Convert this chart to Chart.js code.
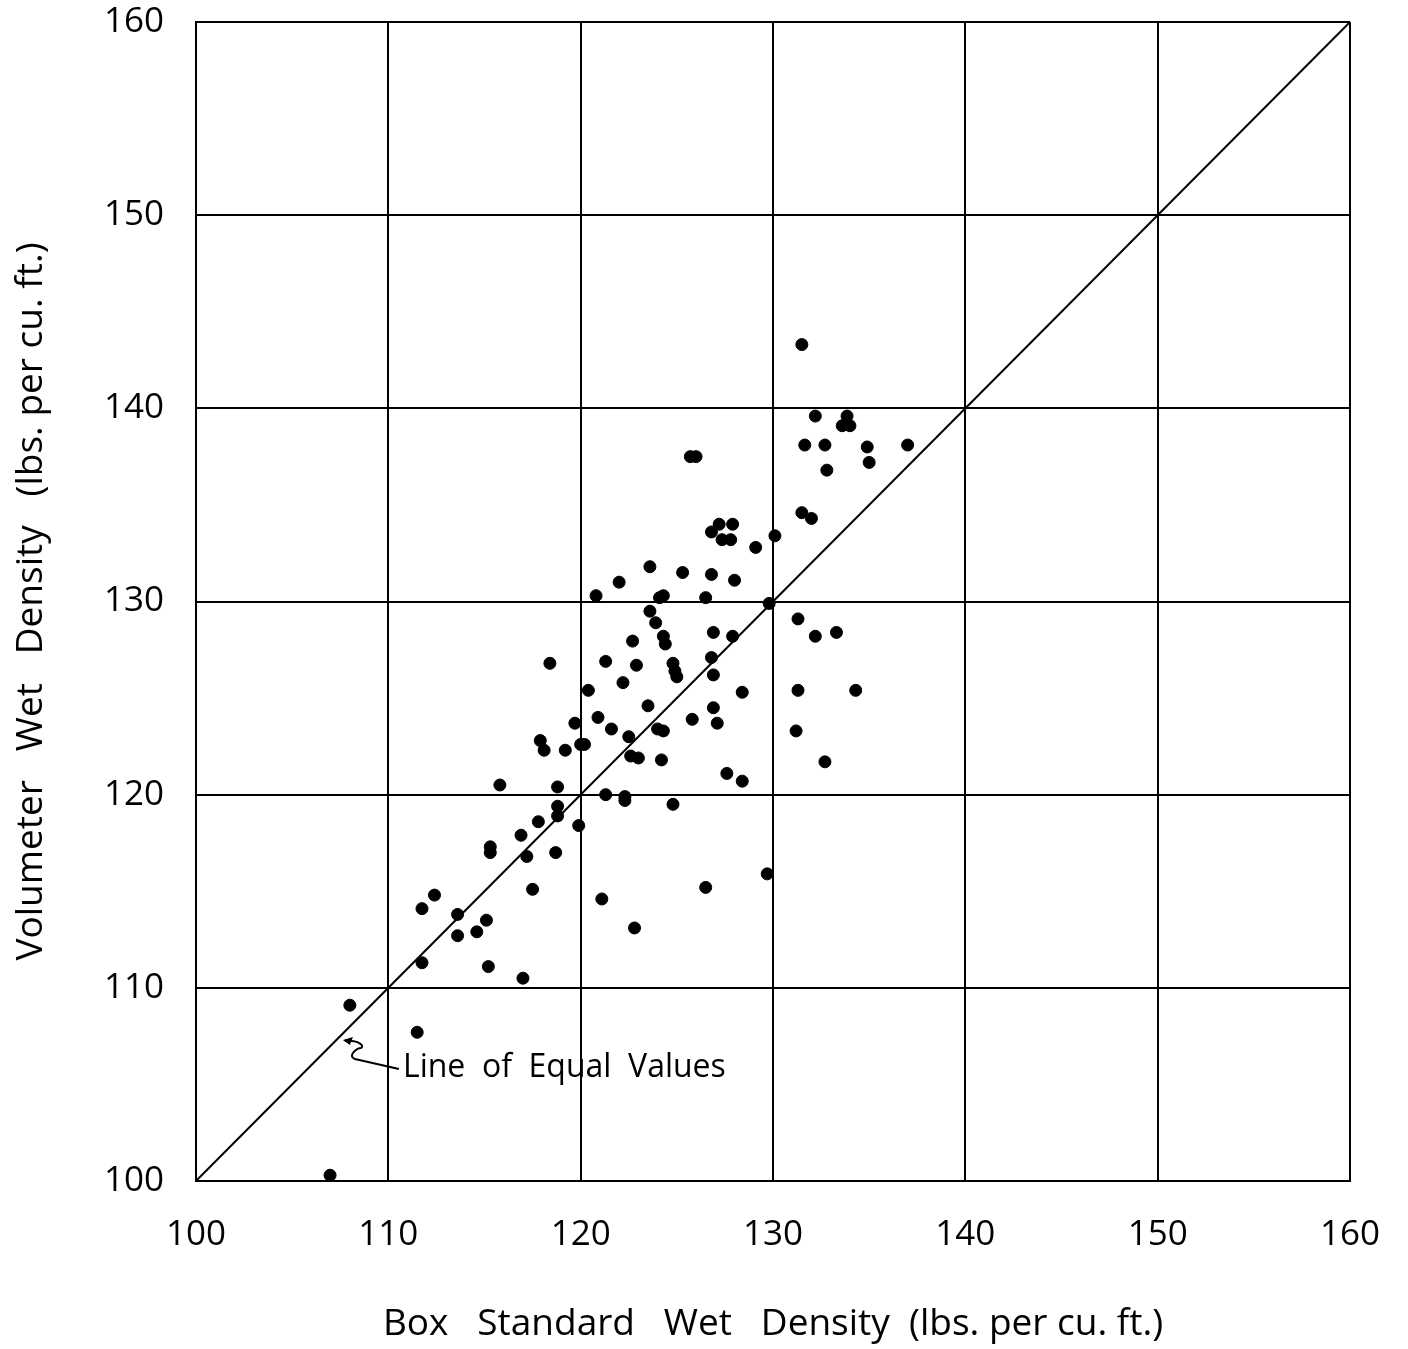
<!DOCTYPE html>
<html>
<head>
<meta charset="utf-8">
<script src="https://cdn.jsdelivr.net/npm/chart.js@4"></script>
<style>
  html, body { margin: 0; padding: 0; background: #fff; }
  canvas { display: block; }
</style>
</head>
<body>
<canvas id="chart" width="1408" height="1349"></canvas>
<script>
// Box standard wet density (x) vs volumeter wet density (y), lbs per cu.ft.
const boxDensity = [
  106.97, 108.0, 111.5, 111.75, 111.75, 112.4, 113.6, 113.6, 114.6, 115.1,
  115.2, 117.0, 115.3, 115.3, 115.8, 116.9, 117.2, 117.5, 117.8, 117.9,
  118.1, 118.4, 118.7, 118.8, 118.8, 118.8, 119.2, 119.7, 119.9, 120.0,
  120.2, 120.4, 120.8, 120.9, 121.1, 121.3, 121.3, 121.6, 122.0, 122.2,
  122.3, 122.3, 122.5, 122.6, 122.7, 122.8, 122.9, 123.0, 123.5, 123.6,
  123.6, 123.9, 124.0, 124.1, 124.3, 124.2, 124.3, 124.3, 124.4, 124.8,
  124.9, 125.0, 124.8, 125.3, 125.7, 126.0, 125.8, 126.5, 126.5, 126.8,
  126.8, 126.8, 126.9, 126.9, 126.9, 127.1, 127.2, 127.35, 127.6, 127.8,
  127.9, 128.0, 127.9, 128.4, 128.4, 129.1, 129.7, 129.8, 130.1, 131.3,
  131.3, 131.2, 131.5, 131.5, 131.65, 132.0, 132.2, 132.2, 132.7, 132.8,
  132.7, 133.3, 133.6, 133.85, 134.0, 134.3, 134.9, 135.0, 137.0
];
const volumeterDensity = [
  100.3, 109.1, 107.7, 111.3, 114.1, 114.8, 113.8, 112.7, 112.9, 113.5,
  111.1, 110.5, 117.3, 117.0, 120.5, 117.9, 116.8, 115.1, 118.6, 122.8,
  122.3, 126.8, 117.0, 120.4, 119.4, 118.9, 122.3, 123.7, 118.4, 122.6,
  122.6, 125.4, 130.3, 124.0, 114.6, 126.9, 120.0, 123.4, 131.0, 125.8,
  119.9, 119.7, 123.0, 122.0, 127.95, 113.1, 126.7, 121.9, 124.6, 131.8,
  129.5, 128.9, 123.4, 130.2, 130.3, 121.8, 123.3, 128.2, 127.8, 126.8,
  126.4, 126.1, 119.5, 131.5, 137.5, 137.5, 123.9, 130.2, 115.2, 133.6,
  131.4, 127.1, 128.4, 124.5, 126.2, 123.7, 134.0, 133.2, 121.1, 133.2,
  134.0, 131.1, 128.2, 120.7, 125.3, 132.8, 115.9, 129.9, 133.4, 129.1,
  125.4, 123.3, 143.3, 134.6, 138.1, 134.3, 139.6, 128.2, 138.1, 136.8,
  121.7, 128.4, 139.1, 139.6, 139.1, 125.4, 138.0, 137.2, 138.1
];
const equalLine = [100, 160];
const axisMin = 100;
const axisMax = 160;
const axisStep = 10;

const fontFamily = '"Open Sans", "DejaVu Sans", sans-serif';

const points = boxDensity.map((x, i) => ({ x: x, y: volumeterDensity[i] }));
const linePoints = equalLine.map(v => ({ x: v, y: v }));

// label + squiggly arrow pointing at the line of equal values
const equalLabel = {
  id: 'equalLabel',
  afterDatasetsDraw(chart) {
    const { ctx, scales: { x, y } } = chart;
    const tx = x.getPixelForValue(110.76);
    const ty = y.getPixelForValue(105.85);
    ctx.save();
    ctx.fillStyle = '#000';
    ctx.font = '32px ' + fontFamily;
    ctx.textBaseline = 'middle';
    ctx.textAlign = 'left';
    ctx.fillText('Line  of  Equal  Values', tx, ty);

    const tipX = x.getPixelForValue(107.64);
    const tipY = y.getPixelForValue(107.3);
    ctx.strokeStyle = '#000';
    ctx.lineWidth = 2;
    ctx.beginPath();
    ctx.moveTo(tx - 4, ty + 1);
    ctx.lineTo(tipX + 12, ty - 9);
    ctx.bezierCurveTo(tipX + 4, ty - 12, tipX + 14, ty - 20, tipX + 18, ty - 20);
    ctx.bezierCurveTo(tipX + 22, ty - 22, tipX + 16, ty - 28, tipX + 2, tipY + 1);
    ctx.stroke();
    // arrow head
    ctx.beginPath();
    ctx.moveTo(tipX, tipY);
    ctx.lineTo(tipX + 10, tipY - 3);
    ctx.lineTo(tipX + 7, tipY + 5);
    ctx.closePath();
    ctx.fill();
    ctx.restore();
  }
};

new Chart(document.getElementById('chart').getContext('2d'), {
  type: 'scatter',
  data: {
    datasets: [
      {
        label: 'Tests',
        data: points,
        backgroundColor: '#000',
        borderColor: '#000',
        pointRadius: 6,
        pointHoverRadius: 6
      },
      {
        type: 'line',
        label: 'Line of Equal Values',
        data: linePoints,
        borderColor: '#000',
        borderWidth: 2,
        pointRadius: 0,
        fill: false
      }
    ]
  },
  options: {
    responsive: false,
    animation: false,
    layout: { padding: { top: 22, right: 58, left: 0, bottom: 0 } },
    plugins: {
      legend: { display: false },
      tooltip: { enabled: false }
    },
    scales: {
      x: {
        type: 'linear',
        min: axisMin,
        max: axisMax,
        afterFit(scale) {
          scale.height = 168;
          scale.paddingLeft = 0;
          scale.paddingRight = 0;
        },
        ticks: {
          stepSize: axisStep,
          color: '#000',
          padding: 33,
          maxRotation: 0,
          font: { family: fontFamily, size: 35 }
        },
        grid: { color: '#000', lineWidth: 2, drawTicks: false },
        border: { display: true, color: '#000', width: 2 },
        title: {
          display: true,
          text: 'Box   Standard   Wet   Density  (lbs. per cu. ft.)',
          color: '#000',
          padding: { top: 0, bottom: 2 },
          font: { family: fontFamily, size: 37 }
        }
      },
      y: {
        type: 'linear',
        min: axisMin,
        max: axisMax,
        afterFit(scale) {
          scale.width = 196;
          scale.paddingTop = 0;
          scale.paddingBottom = 0;
        },
        ticks: {
          stepSize: axisStep,
          color: '#000',
          padding: 32,
          font: { family: fontFamily, size: 35 }
        },
        grid: { color: '#000', lineWidth: 2, drawTicks: false },
        border: { display: true, color: '#000', width: 2 },
        title: {
          display: true,
          text: 'Volumeter   Wet   Density   (lbs. per cu. ft.)',
          color: '#000',
          padding: { top: 9, bottom: 0 },
          font: { family: fontFamily, size: 37 }
        }
      }
    }
  },
  plugins: [equalLabel]
});
</script>
</body>
</html>
